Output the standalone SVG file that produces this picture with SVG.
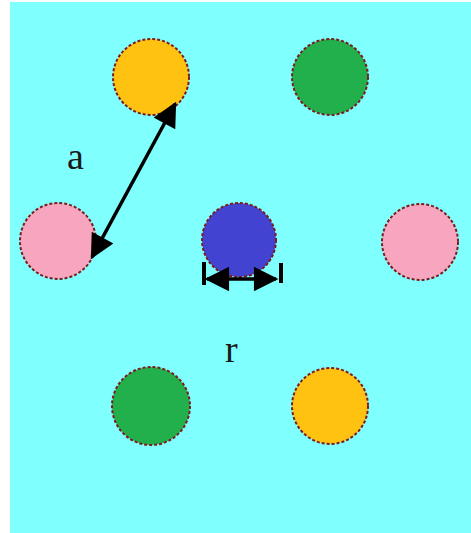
<svg xmlns="http://www.w3.org/2000/svg" width="471" height="533" viewBox="0 0 471 533">
<style>
.atom{stroke:#7d1a1a;stroke-width:2;stroke-dasharray:3 2}
.o{fill:#ffc210}.g{fill:#22b04c}.p{fill:#f8a6c0}.b{fill:#4343d2}
.conn{stroke:#000;stroke-width:3.5;fill:none}
.lbl{font-family:"Liberation Serif","Times New Roman",serif;font-size:38px;fill:#1a1a1a}
</style>
<defs>
<marker id="ah" viewBox="0 0 10 10" refX="9" refY="5" markerWidth="7.5" markerHeight="7" markerUnits="strokeWidth" orient="auto-start-reverse">
<path d="M0,0 L10,5 L0,10 z" fill="#000"/>
</marker>
<marker id="ahr" viewBox="0 0 10 10" refX="9" refY="5" markerWidth="8" markerHeight="7" markerUnits="strokeWidth" orient="auto-start-reverse">
<path d="M0,0 L10,5 L0,10 z" fill="#000"/>
</marker>
</defs>
<rect x="10" y="2" width="461" height="531" fill="#80ffff"/>
<g id="orange-top"><circle class="atom o" cx="151" cy="77" r="38"/></g>
<g id="green-top"><circle class="atom g" cx="330" cy="77" r="38"/></g>
<g id="pink-left"><circle class="atom p" cx="58" cy="241" r="38"/></g>
<g id="blue-center"><circle class="atom b" cx="239" cy="240" r="37"/></g>
<g id="pink-right"><circle class="atom p" cx="420" cy="242" r="38"/></g>
<g id="green-bottom"><circle class="atom g" cx="151" cy="406" r="39"/></g>
<g id="orange-bottom"><circle class="atom o" cx="330" cy="406" r="38"/></g>
<g id="connectors">
<line class="conn" x1="92" y1="257" x2="175" y2="104" marker-start="url(#ah)" marker-end="url(#ah)"/>
<line class="conn" x1="207" y1="279" x2="276" y2="279" marker-start="url(#ahr)" marker-end="url(#ahr)"/>
<rect x="202" y="262" width="4" height="23" fill="#000"/>
<rect x="279" y="263" width="4" height="20" fill="#000"/>
</g>
<text class="lbl" x="67" y="169">a</text>
<text class="lbl" x="225" y="362">r</text>
</svg>
